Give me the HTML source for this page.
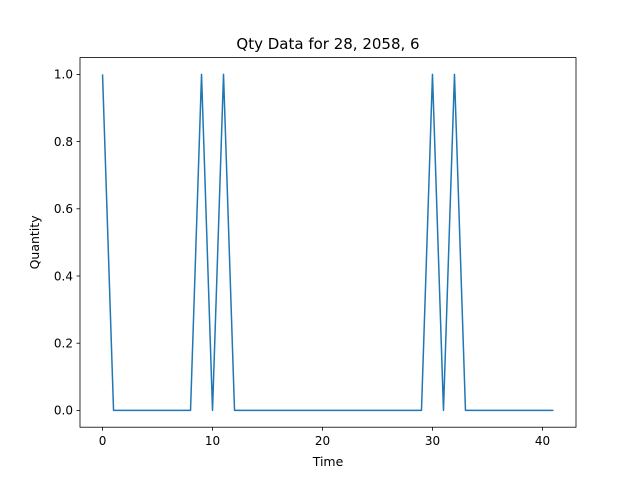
<!DOCTYPE html>
<html><head><meta charset="utf-8"><style>body{margin:0;background:#fff}svg{display:block;font-family:"DejaVu Sans","Liberation Sans",sans-serif}</style></head>
<body>
<svg id="chart" width="640" height="480" xmlns="http://www.w3.org/2000/svg">
<rect width="640" height="480" fill="#fff"/>
<text x="328" y="49" text-anchor="middle" font-size="15">Qty Data for 28, 2058, 6</text>
<g id="plot"></g>
<rect x="80" y="57.6" width="496" height="369.6" fill="none" stroke="#000" stroke-width="0.8"/>
<text x="328" y="466" text-anchor="middle" font-size="12.5">Time</text>
<text transform="translate(39,242.4) rotate(-90)" text-anchor="middle" font-size="12.5">Quantity</text>
</svg>
<script>
const times = Array.from({length:42},(_,i)=>i);
const qty = [1,0,0,0,0,0,0,0,0,1,0,1,0,0,0,0,0,0,0,0,0,0,0,0,0,0,0,0,0,0,1,0,1,0,0,0,0,0,0,0,0,0];
const xTicks = [0,10,20,30,40];
const yTicks = [0,0.2,0.4,0.6,0.8,1.0];
const L=80,R=576,T=57.6,B=427.2;
const xmin=-2.05,xmax=43.05,ymin=-0.05,ymax=1.05;
const sx=v=>L+(v-xmin)/(xmax-xmin)*(R-L);
const sy=v=>B-(v-ymin)/(ymax-ymin)*(B-T);
const NS="http://www.w3.org/2000/svg";
const g=document.getElementById('plot');
function mk(t,a){const e=document.createElementNS(NS,t);for(const k in a)e.setAttribute(k,a[k]);g.appendChild(e);return e;}
xTicks.forEach(v=>{
 const l=mk('line',{x1:sx(v),x2:sx(v),y1:B,y2:B+3.5,stroke:'#000','stroke-width':0.8});
 
 
 const t=mk('text',{x:sx(v),y:B+18,'text-anchor':'middle','font-size':12});
 
 
 t.textContent=v;
});
yTicks.forEach(v=>{
 const l=mk('line',{x1:L-3.5,x2:L,y1:sy(v),y2:sy(v),stroke:'#000','stroke-width':0.8});
 
 
 const t=mk('text',{x:L-7,y:sy(v)+4.3,'text-anchor':'end','font-size':12});
 
 
 t.textContent=v.toFixed(1);
});
const p=mk('polyline',{points:times.map((x,i)=>sx(x)+','+sy(qty[i])).join(' '),fill:'none',stroke:'#1f77b4','stroke-width':1.5,'stroke-linejoin':'round'});


</script>
</body></html>
